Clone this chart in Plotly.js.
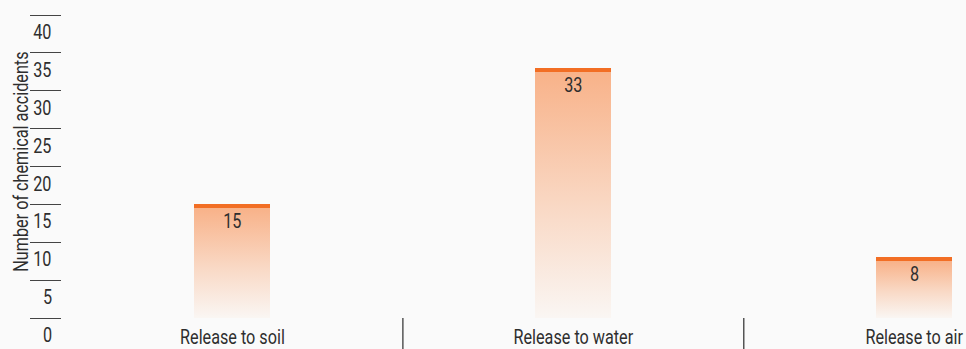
<!DOCTYPE html>
<html>
<head>
<meta charset="utf-8">
<script src="https://cdn.plot.ly/plotly-3.0.1.min.js"></script>
<style>
  html, body { margin: 0; padding: 0; background: #fafafa; }
  #chart { width: 966px; height: 349px; }
</style>
</head>
<body>
<div id="chart"></div>
<script>
const categories = ['Release to soil', 'Release to water', 'Release to air'];
const values = [15, 33, 8];
const yTickValues = [0, 5, 10, 15, 20, 25, 30, 35, 40];
const yTickLabels = ['0', '5', '10', '15', '20', '25', '30', '35', '40'];
const yAxisTitle = 'Number of chemical accidents';

const FONT = 'Roboto, "Noto Sans", sans-serif';
const TEXT_COLOR = '#2e2e2e';
const FS = 20;
const CONDENSE = 0.81;

const barTrace = {
  type: 'bar',
  x: categories,
  y: values,
  width: 0.223,
  marker: { color: '#f8b48c', line: { width: 0 } },
  hoverinfo: 'none'
};

const annotations = [];
yTickValues.forEach((v, i) => {
  annotations.push({
    xref: 'paper', yref: 'y', x: 0, y: v,
    text: yTickLabels[i], showarrow: false,
    xanchor: 'right', yanchor: 'middle', xshift: -7, yshift: -17,
    font: { family: FONT, size: FS, color: TEXT_COLOR }
  });
});
values.forEach((v, i) => {
  annotations.push({
    xref: 'x', yref: 'y', x: categories[i], y: v,
    text: String(v), showarrow: false,
    xanchor: 'center', yanchor: 'middle', yshift: -16.5,
    font: { family: FONT, size: FS, color: TEXT_COLOR }
  });
});
annotations.push({
  xref: 'paper', yref: 'paper', x: 0, y: 0.5,
  text: yAxisTitle, showarrow: false, textangle: -90,
  xanchor: 'center', yanchor: 'middle', xshift: -42, yshift: 5,
  font: { family: FONT, size: FS, color: TEXT_COLOR }
});

const shapes = [];
for (let i = 0; i < categories.length - 1; i++) {
  shapes.push({
    type: 'line', xref: 'x', yref: 'paper',
    x0: i + 0.5, x1: i + 0.5, y0: 0, y1: -0.2,
    line: { color: '#555555', width: 1.5 }
  });
}

const layout = {
  width: 966, height: 349,
  paper_bgcolor: '#fafafa', plot_bgcolor: '#fafafa',
  margin: { l: 62, r: 0, t: 15, b: 31, pad: 0 },
  showlegend: false,
  font: { family: FONT, size: FS, color: TEXT_COLOR },
  xaxis: {
    type: 'category',
    range: [-0.5, 2.152],
    showgrid: false, zeroline: false, showline: false,
    ticks: '',
    ticklabelstandoff: 5,
    tickfont: { family: FONT, size: FS, color: TEXT_COLOR },
    fixedrange: true
  },
  yaxis: {
    range: [0, 40],
    tickvals: yTickValues,
    showticklabels: false,
    ticks: 'outside', ticklen: 31, tickwidth: 1, tickcolor: '#444444',
    showgrid: false, zeroline: false, showline: false,
    fixedrange: true
  },
  annotations: annotations,
  shapes: shapes,
  bargap: 0
};

Plotly.newPlot('chart', [barTrace], layout, { displayModeBar: false, staticPlot: true }).then(gd => {
  const svg = gd.querySelector('svg.main-svg');
  const ns = 'http://www.w3.org/2000/svg';
  let defs = svg.querySelector('defs');
  if (!defs) { defs = document.createElementNS(ns, 'defs'); svg.insertBefore(defs, svg.firstChild); }
  const paths = gd.querySelectorAll('.barlayer .trace .point path');
  paths.forEach((p, i) => {
    const bb = p.getBBox();
    const band = 4 / Math.max(bb.height, 1);
    const g = document.createElementNS(ns, 'linearGradient');
    g.setAttribute('id', 'barGrad' + i);
    g.setAttribute('x1', '0'); g.setAttribute('y1', '0');
    g.setAttribute('x2', '0'); g.setAttribute('y2', '1');
    const stops = [
      [0, '#f26e24'], [band, '#f26e24'], [band, '#f8b289'],
      [0.55, '#f9d8c4'], [1, '#faf6f3']
    ];
    stops.forEach(([o, c]) => {
      const s = document.createElementNS(ns, 'stop');
      s.setAttribute('offset', o);
      s.setAttribute('stop-color', c);
      g.appendChild(s);
    });
    defs.appendChild(g);
    p.style.fill = 'url(#barGrad' + i + ')';
  });
  // condensed look: narrow the glyphs of every text (text stays real text)
  gd.querySelectorAll('text').forEach(t => {
    const len = t.getComputedTextLength();
    if (len > 0) {
      t.setAttribute('textLength', (len * CONDENSE).toFixed(2));
      t.setAttribute('lengthAdjust', 'spacingAndGlyphs');
    }
  });
});
</script>
</body>
</html>
